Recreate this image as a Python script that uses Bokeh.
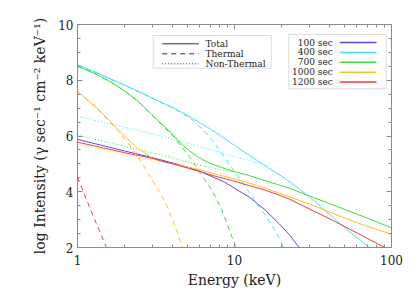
from bokeh.plotting import figure
from bokeh.models import Range1d, FixedTicker, LinearAxis, LogAxis, Label, BoxAnnotation, Arrow
from bokeh.embed import file_html
from bokeh.resources import INLINE

# ---------------- data ----------------
blue_total_E = [1, 2, 2.88, 4.47, 5.976, 8.614, 12.40, 15.46, 19.25, 22.28, 25.79]
blue_total = [5.88, 5.46, 5.25, 4.97, 4.74, 4.35, 3.81, 3.38, 2.85, 2.47, 2.0]

cyan_total_E = [1, 1.386, 1.997, 2.877, 3.855, 4.684, 5.976, 7.63, 9.68, 12.40, 15.44,
                20.69, 25.75, 29.8, 39.9, 51.0, 61.9, 71.7]
cyan_total = [8.56, 8.22, 7.83, 7.41, 7.07, 6.83, 6.49, 6.12, 5.72, 5.31, 4.96,
              4.50, 4.11, 3.83, 3.21, 2.68, 2.30, 2.0]
cyan_thermal_E = [1, 1.386, 1.997, 2.877, 3.855, 4.684, 5.42, 6.43, 7.63, 9.73, 12.40, 15.85, 19.74, 20.4]
cyan_thermal = [8.55, 8.21, 7.82, 7.40, 7.06, 6.81, 6.56, 6.17, 5.67, 4.81, 3.98, 3.13, 2.24, 2.0]
cyan_nonthermal_E = [1, 1.725, 2.877, 4.684, 7.63, 12.40, 14.8]
cyan_nonthermal = [6.71, 6.40, 6.10, 5.79, 5.46, 5.11, 4.99]

green_total_E = [1, 1.288, 1.604, 1.997, 2.486, 2.877, 3.636, 4.684, 5.164, 5.638, 6.155,
                 6.72, 7.63, 9.68, 12.40, 22.28, 34.55, 62.0, 100]
green_total = [8.50, 8.24, 7.96, 7.62, 7.20, 6.85, 6.30, 5.67, 5.47, 5.31, 5.17,
               5.06, 4.94, 4.74, 4.58, 4.13, 3.72, 3.17, 2.71]
green_thermal_E = [1, 1.288, 1.604, 1.997, 2.486, 2.877, 3.636, 4.147, 4.684, 5.318, 5.976,
                   7.12, 8.25, 9.27, 10.12, 10.42]
green_thermal = [8.50, 8.24, 7.96, 7.61, 7.19, 6.83, 6.27, 5.94, 5.56, 5.16, 4.70,
                 4.10, 3.38, 2.63, 2.06, 2.0]
green_nonthermal_E = [1, 1.604, 2.877, 3.636, 4.684, 5.976, 7.63, 9.68]
green_nonthermal = [6.03, 5.76, 5.41, 5.29, 5.11, 4.95, 4.83, 4.72]

orange_total_E = [1, 1.3, 1.59, 1.8, 2.03, 2.3, 2.59, 3.0, 3.5, 4.5, 6.0, 7.63, 9.68,
                  12.4, 15.44, 19.2, 30, 50, 70, 100]
orange_total = [7.60, 7.06, 6.57, 6.25, 5.96, 5.66, 5.45, 5.21, 5.08, 4.95, 4.79, 4.63, 4.48,
                4.31, 4.14, 3.95, 3.56, 3.06, 2.76, 2.48]
orange_thermal_E = [1, 1.3, 1.59, 1.93, 2.3, 2.59, 2.88, 3.3, 3.67, 4.2, 4.68]
orange_thermal = [7.59, 7.04, 6.54, 6.00, 5.44, 5.00, 4.57, 4.02, 3.55, 2.75, 2.0]
orange_nonthermal_E = [1, 1.5, 2, 3, 4.5]
orange_nonthermal = [5.71, 5.50, 5.34, 5.14, 4.95]

red_total_E = [1, 2, 2.88, 4.47, 5.98, 7.63, 9.68, 12.4, 15.44, 19.2, 22.3, 31.3, 40,
               51.1, 70, 86.9, 91]
red_total = [5.78, 5.40, 5.22, 4.93, 4.73, 4.55, 4.40, 4.22, 4.07, 3.88, 3.74, 3.33, 3.04,
             2.73, 2.33, 2.05, 2.0]
red_thermal_E = [1, 1.233, 1.53]
red_thermal = [4.52, 3.25, 2.0]

series_names = ["100 sec", "400 sec", "700 sec", "1000 sec", "1200 sec"]
series_colors = ["#5a4ae0", "#3fe3f5", "#3fdc3f", "#ffbf22", "#f63b3b"]
style_names = ["Total", "Thermal", "Non-Thermal"]
x_ticks = [1, 10, 100]
y_ticks = [2, 4, 6, 8, 10]

FONT = "DejaVu Serif"
TXT = "#222222"
AX = "#8a8a8a"
DASH = "5 4"
DOT = "1 2"

p = figure(x_axis_type="log", x_range=Range1d(1, 100), y_range=Range1d(2, 10),
           frame_width=314, frame_height=223,
           min_border_left=77, min_border_right=16, min_border_top=24, min_border_bottom=42,
           output_backend="svg", toolbar_location=None,
           x_axis_label="Energy (keV)",
           y_axis_label="log Intensity (\u03b3 sec\u207b\u00b9 cm\u207b\u00b2 keV\u207b\u00b9)")
p.grid.visible = False
p.outline_line_color = None
p.background_fill_color = "white"
p.border_fill_color = "white"

x_minor = [m * d for d in (1, 10) for m in range(2, 10)]
y_minor = [2 + 0.5 * i for i in range(17)]
xt = FixedTicker(ticks=x_ticks, minor_ticks=x_minor)
yt = FixedTicker(ticks=y_ticks, minor_ticks=y_minor)


def style(ax):
    ax.axis_line_color = AX
    ax.major_tick_line_color = AX
    ax.minor_tick_line_color = AX
    ax.major_tick_in = 5
    ax.major_tick_out = 0
    ax.minor_tick_in = 3
    ax.minor_tick_out = 0
    ax.major_label_text_font = FONT
    ax.major_label_text_color = TXT
    ax.major_label_text_font_size = "12px"
    ax.axis_label_text_font = FONT
    ax.axis_label_text_color = TXT
    ax.axis_label_text_font_style = "normal"
    ax.axis_label_text_font_size = "14px"


xa = p.xaxis[0]
xa.ticker = xt
xa.major_label_overrides = {1: "1", 10: "10", 100: "100"}
style(xa)
xa.major_label_standoff = 7
xa.axis_label_standoff = 4

ya = p.yaxis[0]
ya.ticker = yt
style(ya)
ya.major_label_standoff = 4
ya.axis_label_standoff = 7

top = LogAxis(ticker=xt)
style(top)
top.major_label_text_alpha = 0
top.major_label_standoff = 0
top.major_label_text_font_size = "1px"
p.add_layout(top, "above")
right = LinearAxis(ticker=yt)
style(right)
right.major_label_text_alpha = 0
right.major_label_standoff = 0
right.major_label_text_font_size = "1px"
p.add_layout(right, "right")

# ---------------- curves ----------------
curves = [
    (blue_total_E, blue_total, 0, None),
    (cyan_total_E, cyan_total, 1, None),
    (cyan_thermal_E, cyan_thermal, 1, DASH),
    (cyan_nonthermal_E, cyan_nonthermal, 1, DOT),
    (green_total_E, green_total, 2, None),
    (green_thermal_E, green_thermal, 2, DASH),
    (green_nonthermal_E, green_nonthermal, 2, DOT),
    (orange_total_E, orange_total, 3, None),
    (orange_thermal_E, orange_thermal, 3, DASH),
    (orange_nonthermal_E, orange_nonthermal, 3, DOT),
    (red_total_E, red_total, 4, None),
    (red_thermal_E, red_thermal, 4, DASH),
]
for xs, ys, ci, dash in curves:
    kw = {} if dash is None else {"line_dash": dash}
    p.line(xs, ys, line_color=series_colors[ci], line_width=1, **kw)

# ---------------- legends (screen units, frame-relative) ----------------
FL, FB = 77, 247  # frame left / bottom in picture pixels


def sx(px):
    return px - FL


def sy(py):
    return FB - py


def box(l, t, r, b):
    p.add_layout(BoxAnnotation(left=sx(l), right=sx(r), top=sy(t), bottom=sy(b),
                               left_units="screen", right_units="screen",
                               top_units="screen", bottom_units="screen",
                               fill_color="white", fill_alpha=1.0,
                               line_color=AX, line_width=1))


def seg(x0, x1, y, color, width, dash=None):
    kw = {} if dash is None else {"line_dash": dash}
    p.add_layout(Arrow(start=None, end=None, x_start=sx(x0), x_end=sx(x1),
                       y_start=sy(y), y_end=sy(y), start_units="screen", end_units="screen",
                       line_color=color, line_width=width, **kw))


def txt(x, y, s, align):
    p.add_layout(Label(x=sx(x), y=sy(y), x_units="screen", y_units="screen", text=s,
                       text_font=FONT, text_font_size="9px", text_color=TXT,
                       text_align=align, text_baseline="middle"))


box(152.7, 35, 270.7, 67.7)
for i, (name, dash) in enumerate(zip(style_names, [None, DASH, DOT])):
    yrow = 43.3 + 10 * i
    seg(161.7, 198.3, yrow, "#333333", 1, dash)
    txt(205, yrow, name, "left")

box(288.3, 34, 385.7, 88.3)
for i, (name, col) in enumerate(zip(series_names, series_colors)):
    yrow = 42 + 9.9 * i
    txt(332.3, yrow, name, "right")
    seg(339.3, 376, yrow, col, 1.5)

open("out.html", "w").write(file_html(p, INLINE, "plot"))
